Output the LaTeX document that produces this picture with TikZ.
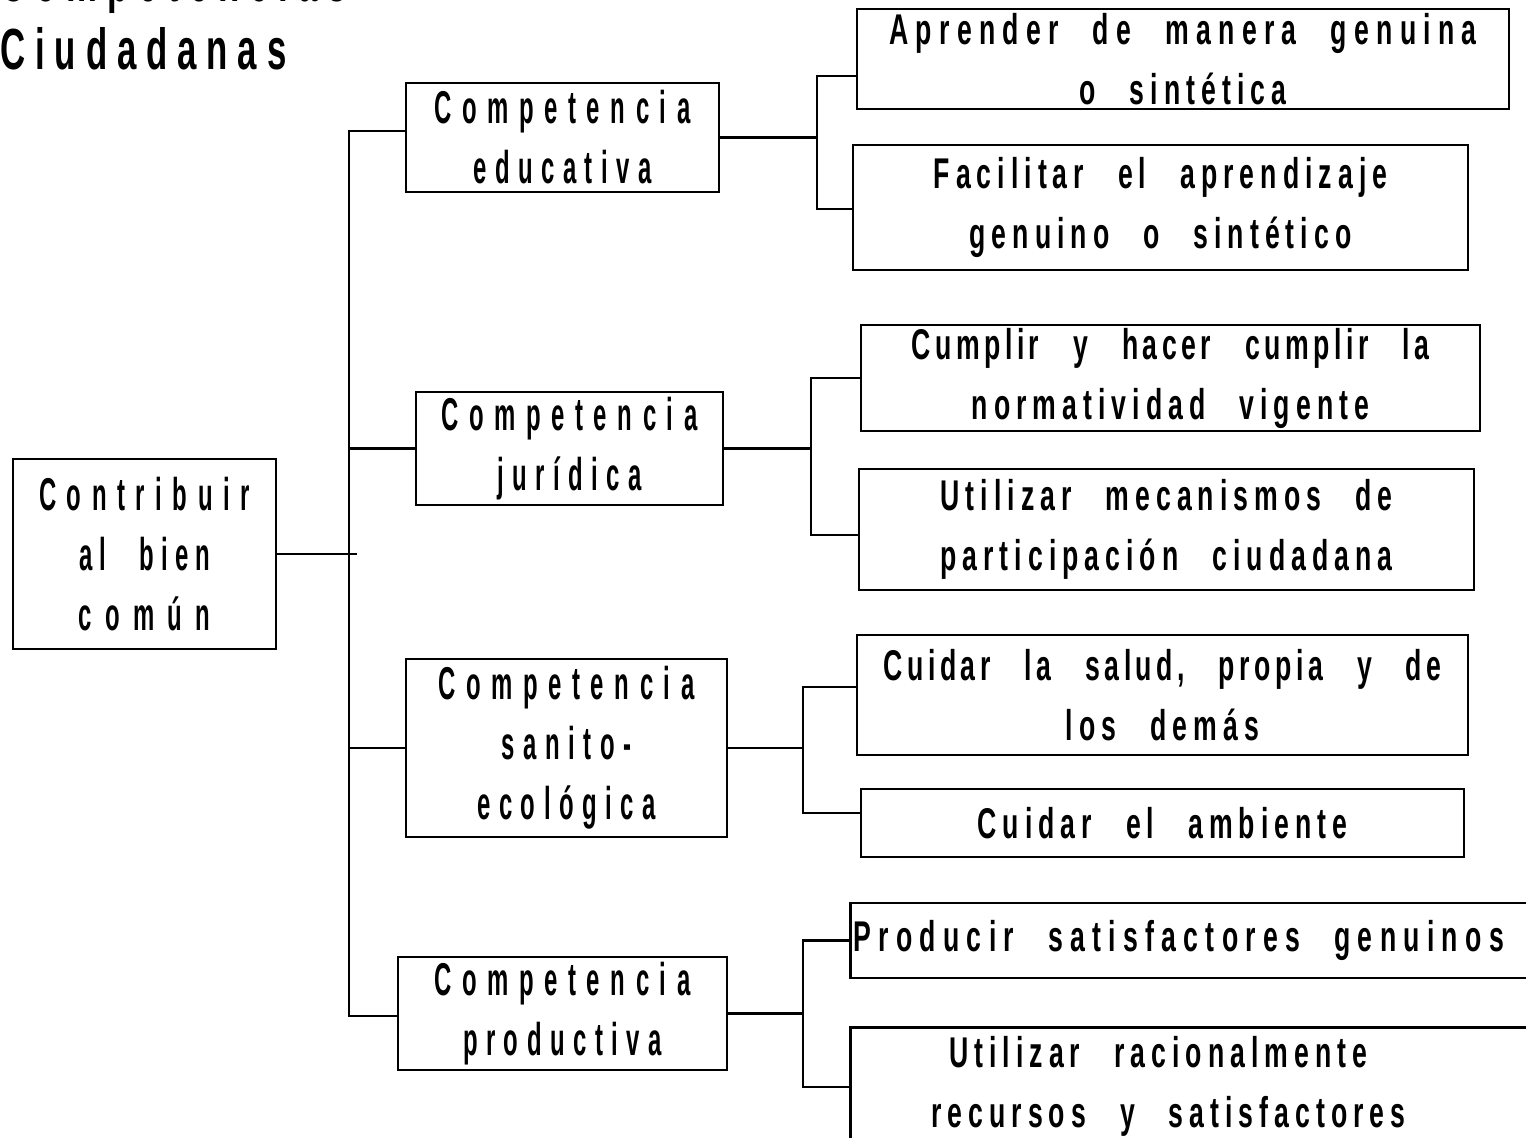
\documentclass[tikz,border=0pt]{standalone}
\usepackage{fontspec}
\setmainfont{Liberation Sans}[FakeStretch=0.55]
\newfontfamily\titlefont{Liberation Sans}[FakeStretch=0.6, LetterSpace=17]
\newfontfamily\fwide{Liberation Sans}[FakeStretch=0.52, LetterSpace=23]
\newfontfamily\fmid{Liberation Sans}[FakeStretch=0.52, LetterSpace=18.5]
\newfontfamily\fcom{Liberation Sans}[FakeStretch=0.52, LetterSpace=29]
\newfontfamily\fal{Liberation Sans}[FakeStretch=0.52, LetterSpace=15]
\newfontfamily\ftwo{Liberation Sans}[FakeStretch=0.62, LetterSpace=14]
\newfontfamily\fwider{Liberation Sans}[FakeStretch=0.62, LetterSpace=17]
\newfontfamily\ftight{Liberation Sans}[FakeStretch=0.62, LetterSpace=10.5]
\newcommand\wsp{\hspace{17pt}}
\begin{document}
\begin{tikzpicture}[x=0.5pt,y=-0.5pt,
  box/.style={draw, line width=1.3pt, inner sep=0pt, align=center},
  lvone/.style={box, font=\fmid\bfseries\fontsize{23}{30}\selectfont},
  lvtwo/.style={box, font=\ftwo\bfseries\fontsize{21.5}{30}\selectfont},
  conn/.style={line width=1.3pt},
  titletext/.style={anchor=base west, inner sep=0pt,
    font=\titlefont\bfseries\fontsize{29}{30}\selectfont}]
\useasboundingbox (0,0) rectangle (1526,1138);

% title
\node[titletext] (t1) at (0,2) {Competencias};
\node[titletext] (t2) at (0,70) {Ciudadanas};

% root
\node[lvone, minimum width=131.5pt, minimum height=95pt] (root) at (144.5,554)
  {{\fwide Contribuir}\\{\fal al\wsp bien}\\{\fcom común}};

% level 1
\node[lvone, minimum width=156.5pt, minimum height=54.5pt] (edu) at (562.5,137.5)
  {{\fwide Competencia}\\educativa};
\node[lvone, minimum width=153.5pt, minimum height=56.5pt] (jur) at (569.5,448.5)
  {{\fwide Competencia}\\jurídica};
\node[lvone, minimum width=160.5pt, minimum height=89pt] (san) at (566.5,748)
  {{\fwide Competencia}\\sanito-\\ecológica};
\node[lvone, minimum width=164.5pt, minimum height=56.5pt] (pro) at (562.5,1013.5)
  {{\fwide Competencia}\\productiva};

% level 2
\node[lvtwo, minimum width=326pt, minimum height=50pt] (a1) at (1183,59)
  {{\fwider Aprender\wsp de\wsp manera\wsp genuina}\\o\wsp sintética};
\node[lvtwo, minimum width=307.5pt, minimum height=62.5pt] (a2) at (1160.5,207.5)
  {Facilitar\wsp el\wsp aprendizaje\\genuino\wsp o\wsp sintético};
\node[lvtwo, minimum width=309.5pt, minimum height=53pt] (b1) at (1170.5,378)
  {{\ftight Cumplir\wsp y\wsp hacer\wsp cumplir\wsp la}\\normatividad\wsp vigente};
\node[lvtwo, minimum width=307.5pt, minimum height=60.5pt] (b2) at (1166.5,529.5)
  {Utilizar\wsp mecanismos\wsp de\\participación\wsp ciudadana};
\node[lvtwo, minimum width=305.5pt, minimum height=60pt] (c1) at (1162.5,695)
  {{\ftight Cuidar\wsp la\wsp salud,\wsp propia\wsp y\wsp de}\\los\wsp demás};
\node[lvtwo, minimum width=301.5pt, minimum height=34pt] (c2) at (1162.5,823)
  {Cuidar\wsp el\wsp ambiente};
\node[lvtwo, anchor=west, text width=355pt, align=left, minimum height=37.5pt] (d1) at (849,940.5)
  {\fwider\hspace*{1.5pt}Producir\wsp satisfactores\wsp genuinos};
\node[lvtwo, anchor=north west, text width=355pt, align=left, minimum height=59.5pt] (d2) at (849,1026)
  {\hspace*{49.5pt}Utilizar\wsp racionalmente\\\hspace*{40.5pt}recursos\wsp y\wsp satisfactores};

% connectors
\coordinate (trunk) at (349,554);
\coordinate (rootend) at (357,554);
\draw[conn] (root.east) -- (rootend);
\draw[conn] ([yshift=3.25pt]edu.west) -| (trunk) |- ([yshift=-1.25pt]pro.west);
\draw[conn] (jur.west) -- (jur.west -| trunk);
\draw[conn] (san.west) -- (san.west -| trunk);

\coordinate (g1) at (817,143);
\draw[conn] (edu.east) -- (edu.east -| g1);
\draw[conn] ([yshift=-8.5pt]a1.west) -| (g1) |- ([yshift=-0.75pt]a2.west);

\coordinate (g2) at (811,450);
\draw[conn] (jur.east) -- (jur.east -| g2);
\draw[conn] (b1.west) -| (g2) |- ([yshift=-2.75pt]b2.west);

\coordinate (g3) at (803,748);
\draw[conn] (san.east) -- (san.east -| g3);
\draw[conn] ([yshift=4pt]c1.west) -| (g3) |- ([yshift=5pt]c2.west);

\coordinate (g4) at (803,1018);
\draw[conn] (pro.east) -- (pro.east -| g4);
\draw[conn] (d1.west) -| (g4) |- (d2.west);
\end{tikzpicture}
\end{document}
